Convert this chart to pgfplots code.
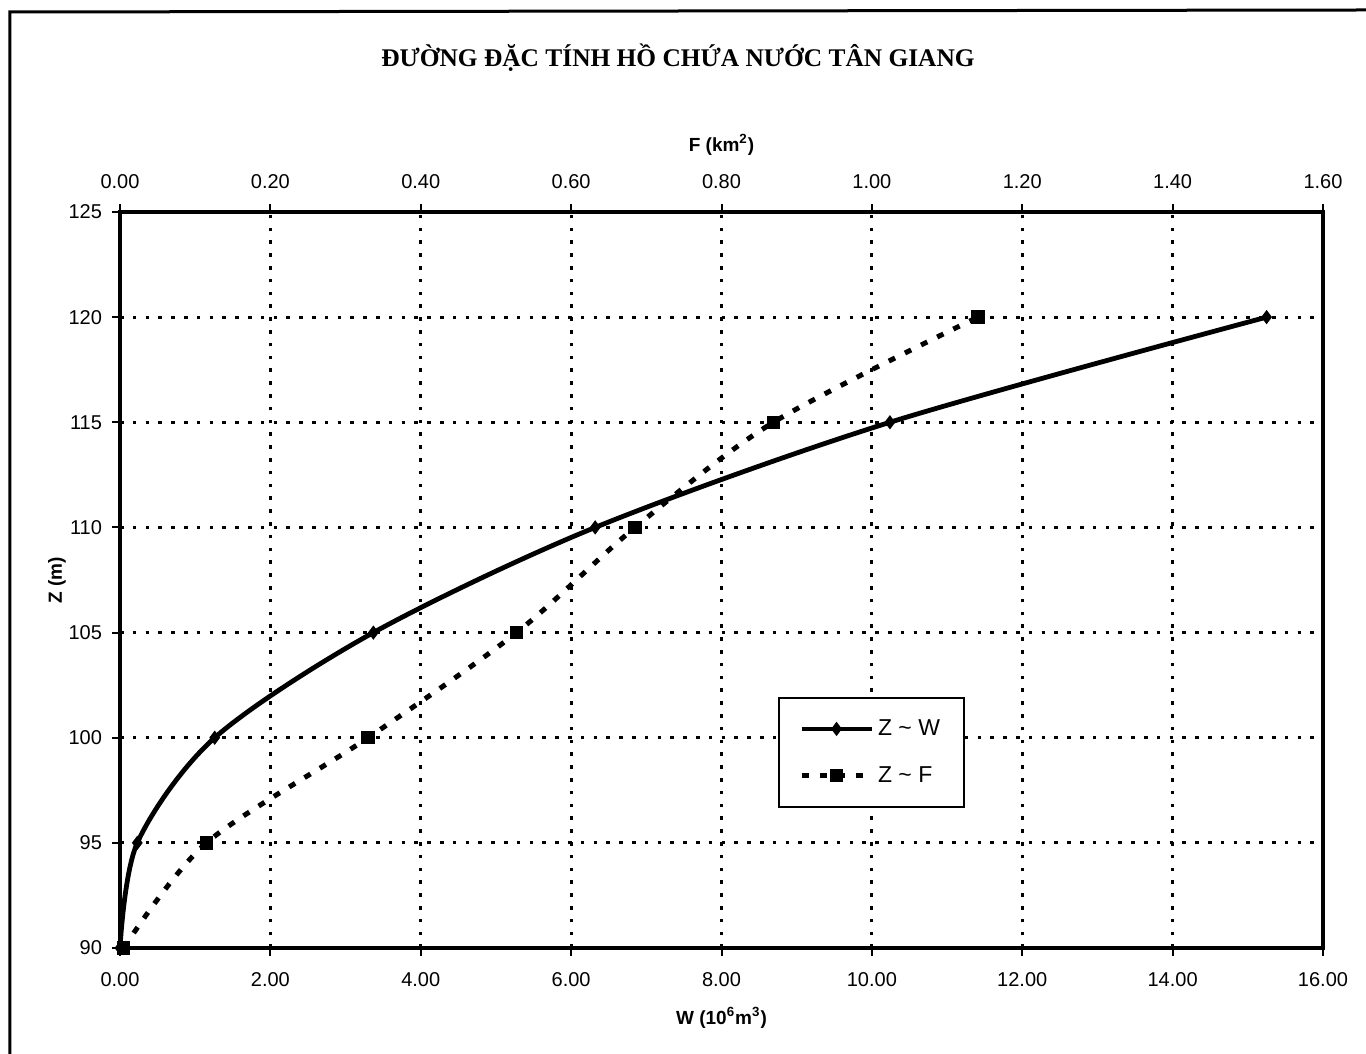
\documentclass[border=0pt]{standalone}
\usepackage{fontspec}
\setmainfont{Liberation Sans}
\newfontfamily\titlefont{Liberation Serif}
\usepackage{pgfplots}
\pgfplotsset{compat=1.18}

\pgfplotsset{
 common/.style={
 scale only axis, width=601.5pt, height=368pt,
 ymin=90, ymax=125,
 tick align=outside, major tick length=4pt,
 tick style={black, line width=1pt},
 axis line style={line width=1.6pt},
 every tick label/.append style={font=\fontsize{10}{11}\selectfont},
 /pgf/number format/assume math mode=true,
 legend image code/.code={
 \draw[mark repeat=2,mark phase=2,#1]
 plot coordinates {(0pt,0pt)(17.5pt,0pt)(35pt,0pt)};},
 },
 zw/.style={black, line width=2.4pt, smooth, mark=diamond*, mark size=1.6pt,
 mark options={solid}},
 zf/.style={black, line width=2.5pt, smooth, dash pattern=on 3.5pt off 5.5pt,
 mark=square*, mark size=2.1pt, mark options={solid}},
}

\begin{document}
\begin{tikzpicture}
\useasboundingbox (-60pt,-53pt) rectangle (623pt,474pt);
\fill[white] (-60pt,-53pt) rectangle (623pt,474pt);
% scanned page frame
\draw[line width=1.5pt] (-55pt,-53pt) -- (-55pt,468pt) -- (623pt,469pt);

\node[font=\titlefont\bfseries\fontsize{12.7}{14}\selectfont]
 at (279pt,445pt) {ĐƯỜNG ĐẶC TÍNH HỒ CHỨA NƯỚC TÂN GIANG};

% W axis (bottom) with grid
\begin{axis}[common,
 xmin=0, xmax=16,
 xtick={0,2,4,6,8,10,12,14,16},
 ytick={90,95,100,105,110,115,120,125},
 xtick pos=bottom, ytick pos=left,
 xticklabel style={yshift=-4.5pt,
 /pgf/number format/.cd, fixed, fixed zerofill, precision=2},
 yticklabel style={xshift=-1.5pt},
 xmajorgrids, ymajorgrids,
 major grid style={black, line width=1.5pt, dash pattern=on 1.8pt off 4.6pt},
 xlabel={W (10\textsuperscript{6}m\textsuperscript{3})},
 ylabel={Z (m)},
 xlabel style={font=\bfseries\fontsize{9.5}{11}\selectfont,
 at={(axis description cs:0.5,-0.0951)}, anchor=center},
 ylabel style={font=\bfseries\fontsize{9.5}{11}\selectfont,
 at={(axis description cs:-0.0524,0.5)}, anchor=center},
]
\addplot[zw] coordinates {
 (0,90) (0.23,95) (1.26,100) (3.37,105) (6.32,110) (10.24,115) (15.25,120)};
\end{axis}

% F axis (top)
\begin{axis}[common,
 xmin=0, xmax=1.6,
 axis x line*=top, axis y line=none,
 xtick={0,0.2,0.4,0.6,0.8,1.0,1.2,1.4,1.6},
 xticklabel style={yshift=4pt,
 /pgf/number format/.cd, fixed, fixed zerofill, precision=2},
 xlabel={F (km\textsuperscript{2})},
 xlabel style={font=\bfseries\fontsize{9.5}{11}\selectfont,
 at={(axis description cs:0.5,1.091)}, anchor=center},
 legend style={at={(axis description cs:0.547,0.19)}, anchor=south west,
 draw=black, line width=1pt, fill=white,
 font=\fontsize{11.5}{12}\selectfont,
 inner xsep=10pt, inner ysep=9pt, row sep=10pt},
 legend cell align=left,
]
\addlegendimage{zw}
\addlegendentry{Z \textasciitilde\ W}
\addplot[zf] coordinates {
 (0.005,90) (0.115,95) (0.330,100) (0.5275,105) (0.685,110) (0.869,115) (1.141,120)};
\addlegendentry{Z \textasciitilde\ F}
\end{axis}
\end{tikzpicture}
\end{document}
